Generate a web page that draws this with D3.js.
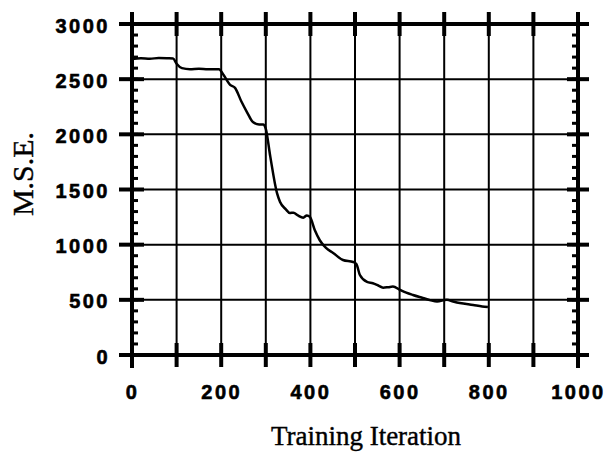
<!DOCTYPE html>
<html>
<head>
<meta charset="utf-8">
<script src="https://cdn.jsdelivr.net/npm/d3@7"></script>
<style>
  body { margin: 0; background: #fff; }
  .tick-label { font-family: "Liberation Sans", Arial, sans-serif; font-weight: bold; font-size: 20px; letter-spacing: 2.5px; fill: #000; stroke: #000; stroke-width: 0.6px; }
  .title { font-family: "Liberation Serif", "Times New Roman", serif; fill: #000; stroke: #000; stroke-width: 0.4px; }
</style>
</head>
<body>
<div id="chart"></div>
<script>
// training curve
const iterations = [0, 20, 40, 60, 80, 92, 100, 112, 130, 150, 170, 195, 205, 220, 231, 245, 258, 271, 285, 294,
  300, 310, 325, 332, 345, 354, 362, 372, 384, 392, 399, 410, 421, 435, 451, 473, 496, 503, 511, 527,
  540, 552, 563, 575, 585, 601, 615, 630, 652, 670, 684, 706, 720, 735, 765, 785, 798];
const mse = [2683, 2690, 2685, 2692, 2690, 2688, 2640, 2600, 2590, 2595, 2590, 2590, 2540, 2448, 2421, 2300, 2200, 2112, 2090, 2090,
  2050, 1800, 1469, 1387, 1320, 1287, 1290, 1265, 1245, 1265, 1251, 1130, 1040, 970, 925, 861, 843, 825, 725, 662,
  650, 630, 610, 615, 620, 590, 565, 544, 517, 495, 485, 500, 485, 471, 453, 440, 435];

const xTicks = [0, 100, 200, 300, 400, 500, 600, 700, 800, 900, 1000];
const xLabels = [0, 200, 400, 600, 800, 1000];
const yMajor = [0, 500, 1000, 1500, 2000, 2500, 3000];
const yMinor = d3.range(0, 3001, 100);

const width = 608, height = 458;
const margin = { top: 24, right: 30, bottom: 103, left: 132 };

const svg = d3.select('#chart').append('svg')
  .attr('width', width)
  .attr('height', height);

const x = d3.scaleLinear().domain([0, 1000]).range([margin.left, width - margin.right]);
const y = d3.scaleLinear().domain([0, 3000]).range([height - margin.bottom, margin.top]);

const x0 = x(0), x1 = x(1000), y0 = y(0), y1 = y(3000);

// grid
svg.append('g').selectAll('line.vgrid')
  .data(xTicks.slice(1, -1))
  .enter().append('line')
  .attr('x1', d => x(d)).attr('x2', d => x(d))
  .attr('y1', y1).attr('y2', y0)
  .attr('stroke', '#000').attr('stroke-width', 2);
svg.append('g').selectAll('line.hgrid')
  .data(yMajor.slice(1, -1))
  .enter().append('line')
  .attr('x1', x0).attr('x2', x1)
  .attr('y1', d => y(d)).attr('y2', d => y(d))
  .attr('stroke', '#000').attr('stroke-width', 2);

// frame
const frame = svg.append('g').attr('stroke', '#000').attr('stroke-width', 4);
frame.append('line').attr('x1', x0 - 13).attr('x2', x1 + 11).attr('y1', y1).attr('y2', y1);
frame.append('line').attr('x1', x0 - 13).attr('x2', x1 + 11).attr('y1', y0).attr('y2', y0);
frame.append('line').attr('x1', x0).attr('x2', x0).attr('y1', y1 - 11).attr('y2', y0 + 13);
frame.append('line').attr('x1', x1).attr('x2', x1).attr('y1', y1 - 11).attr('y2', y0 + 13);

// x ticks on top and bottom
const ticks = svg.append('g').attr('stroke', '#000').attr('stroke-width', 4);
[y1, y0].forEach(ya => {
  ticks.selectAll(null)
    .data(xTicks)
    .enter().append('line')
    .attr('x1', d => x(d)).attr('x2', d => x(d))
    .attr('y1', ya - 12).attr('y2', ya + 12);
});

// y minor ticks (inward) on both sides
ticks.selectAll(null).data(yMinor).enter().append('line')
  .attr('x1', x0).attr('x2', x0 + 6)
  .attr('y1', d => y(d)).attr('y2', d => y(d))
  .attr('stroke-width', 3);
ticks.selectAll(null).data(yMinor).enter().append('line')
  .attr('x1', x1 - 6).attr('x2', x1)
  .attr('y1', d => y(d)).attr('y2', d => y(d))
  .attr('stroke-width', 3);

// y major ticks
ticks.selectAll(null).data(yMajor).enter().append('line')
  .attr('x1', x0 - 13).attr('x2', x0 + 12)
  .attr('y1', d => y(d)).attr('y2', d => y(d));
ticks.selectAll(null).data(yMajor).enter().append('line')
  .attr('x1', x1 - 11).attr('x2', x1 + 11)
  .attr('y1', d => y(d)).attr('y2', d => y(d));

// tick labels
const xAxis = svg.append('g')
  .attr('transform', `translate(0, ${y0})`)
  .call(d3.axisBottom(x).tickValues(xLabels).tickSize(0).tickPadding(30).tickFormat(d3.format('d')));
const yAxis = svg.append('g')
  .attr('transform', `translate(${x0}, 0)`)
  .call(d3.axisLeft(y).tickValues(yMajor).tickSize(0).tickPadding(22).tickFormat(d3.format('d')));
[xAxis, yAxis].forEach(a => {
  a.select('.domain').remove();
  a.attr('font-size', null).attr('font-family', null);
  a.selectAll('text').attr('class', 'tick-label');
});
yAxis.selectAll('text').attr('dy', '0.4em');

// curve
const line = d3.line()
  .x((d, i) => x(iterations[i]))
  .y(d => y(d))
  .curve(d3.curveMonotoneX);
svg.append('path')
  .datum(mse)
  .attr('d', line)
  .attr('fill', 'none')
  .attr('stroke', '#000')
  .attr('stroke-width', 2.5)
  .attr('stroke-linejoin', 'round');

// titles
svg.append('text')
  .attr('class', 'title')
  .attr('x', 366).attr('y', 445)
  .attr('text-anchor', 'middle')
  .attr('font-size', 27)
  .text('Training Iteration');
svg.append('text')
  .attr('class', 'title')
  .attr('transform', 'translate(33, 174) rotate(-90)')
  .attr('text-anchor', 'middle')
  .attr('font-size', 30)
  .text('M.S.E.');
</script>
</body>
</html>
